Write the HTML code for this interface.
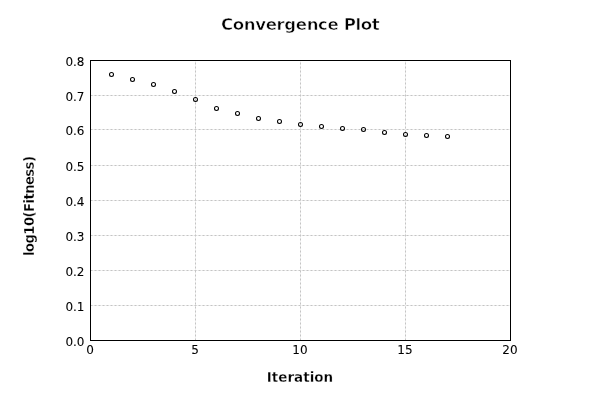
<!DOCTYPE html>
<html><head><meta charset="utf-8"><title>Convergence Plot</title><style>
html,body{margin:0;padding:0;background:#fff;}
body{width:600px;height:400px;overflow:hidden;position:relative;}
svg{position:absolute;left:0;top:0;will-change:transform;}
text{font-family:"DejaVu Sans","Liberation Sans",sans-serif;fill:#000;}
</style></head><body>
<svg width="600" height="400" viewBox="0 0 600 400">
<g stroke="#f3f3f3" stroke-width="1" fill="none">
<line x1="90.5" y1="95.5" x2="510" y2="95.5"/>
<line x1="90.5" y1="129.5" x2="510" y2="129.5"/>
<line x1="90.5" y1="165.5" x2="510" y2="165.5"/>
<line x1="90.5" y1="200.5" x2="510" y2="200.5"/>
<line x1="90.5" y1="235.5" x2="510" y2="235.5"/>
<line x1="90.5" y1="270.5" x2="510" y2="270.5"/>
<line x1="90.5" y1="305.5" x2="510" y2="305.5"/>
<line x1="195.5" y1="340.5" x2="195.5" y2="61"/>
<line x1="300.5" y1="340.5" x2="300.5" y2="61"/>
<line x1="405.5" y1="340.5" x2="405.5" y2="61"/>
</g>
<g stroke="#c4c4c4" stroke-width="1" stroke-dasharray="2 2" fill="none">
<line x1="90.5" y1="95.5" x2="510" y2="95.5"/>
<line x1="90.5" y1="129.5" x2="510" y2="129.5"/>
<line x1="90.5" y1="165.5" x2="510" y2="165.5"/>
<line x1="90.5" y1="200.5" x2="510" y2="200.5"/>
<line x1="90.5" y1="235.5" x2="510" y2="235.5"/>
<line x1="90.5" y1="270.5" x2="510" y2="270.5"/>
<line x1="90.5" y1="305.5" x2="510" y2="305.5"/>
<line x1="195.5" y1="340.5" x2="195.5" y2="61"/>
<line x1="300.5" y1="340.5" x2="300.5" y2="61"/>
<line x1="405.5" y1="340.5" x2="405.5" y2="61"/>
</g>
<rect x="90.5" y="60.5" width="420" height="280" fill="none" stroke="#000" stroke-width="1"/>
<g fill="none" stroke="#000" stroke-width="1.05">
<circle cx="111.5" cy="74.5" r="2.0"/>
<circle cx="132.5" cy="79.5" r="2.0"/>
<circle cx="153.5" cy="84.5" r="2.0"/>
<circle cx="174.5" cy="91.5" r="2.0"/>
<circle cx="195.5" cy="99.5" r="2.0"/>
<circle cx="216.5" cy="108.5" r="2.0"/>
<circle cx="237.5" cy="113.5" r="2.0"/>
<circle cx="258.5" cy="118.5" r="2.0"/>
<circle cx="279.5" cy="121.5" r="2.0"/>
<circle cx="300.5" cy="124.5" r="2.0"/>
<circle cx="321.5" cy="126.5" r="2.0"/>
<circle cx="342.5" cy="128.5" r="2.0"/>
<circle cx="363.5" cy="129.5" r="2.0"/>
<circle cx="384.5" cy="132.5" r="2.0"/>
<circle cx="405.5" cy="134.5" r="2.0"/>
<circle cx="426.5" cy="135.5" r="2.0"/>
<circle cx="447.5" cy="136.5" r="2.0"/>
</g>
<text x="300.2" y="30" text-anchor="middle" font-weight="bold" font-size="16.6" letter-spacing="-0.4" stroke="#fff" stroke-width="0.6">Convergence Plot</text>
<g font-size="12" text-anchor="end" stroke="#000" stroke-width="0.08">
<text x="84.5" y="66">0.8</text>
<text x="84.5" y="101">0.7</text>
<text x="84.5" y="135">0.6</text>
<text x="84.5" y="171">0.5</text>
<text x="84.5" y="206">0.4</text>
<text x="84.5" y="241">0.3</text>
<text x="84.5" y="276">0.2</text>
<text x="84.5" y="311">0.1</text>
<text x="84.5" y="346">0.0</text>
</g>
<g font-size="12" text-anchor="middle" stroke="#000" stroke-width="0.08">
<text x="90" y="354">0</text>
<text x="195" y="354">5</text>
<text x="300" y="354">10</text>
<text x="405" y="354">15</text>
<text x="510" y="354">20</text>
</g>
<text x="300" y="382" text-anchor="middle" font-weight="bold" font-size="13.5" stroke="#fff" stroke-width="0.3">Iteration</text>
<text transform="translate(34,206.3) rotate(-90) scale(0.93,1)" text-anchor="middle" font-weight="bold" font-size="14.2" letter-spacing="-0.62" stroke="#fff" stroke-width="0.3">log10(Fitness)</text>
</svg>
</body></html>
